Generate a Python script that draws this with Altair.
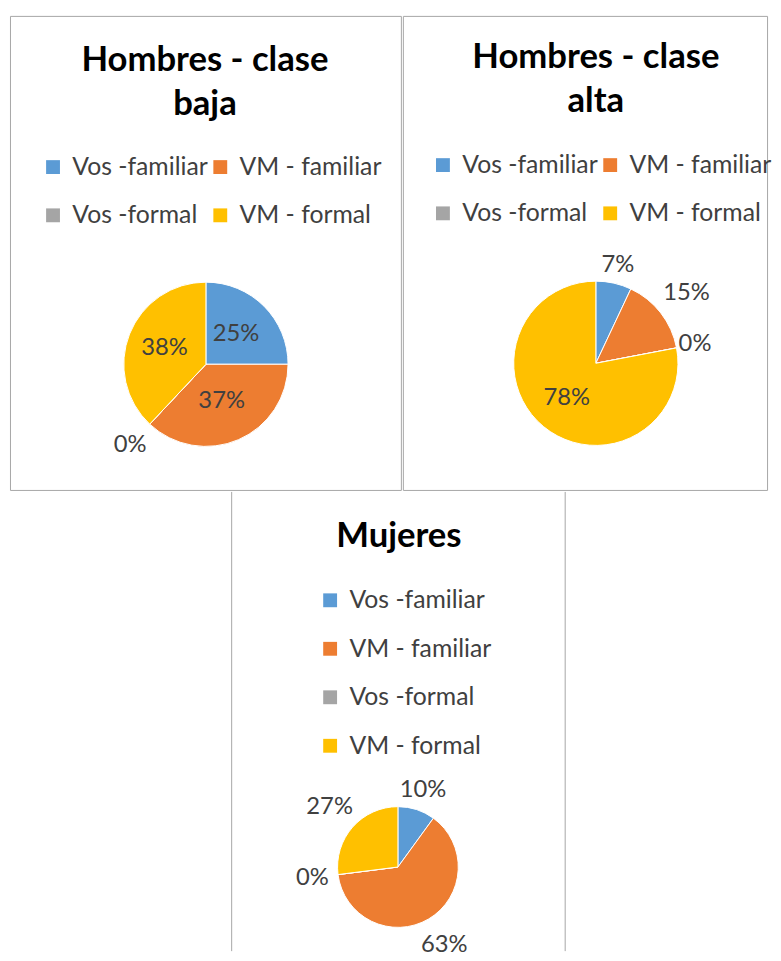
import altair as alt
import pandas as pd

# ---- data ----
categorias = ["Vos -familiar", "VM - familiar", "Vos -formal", "VM - formal"]
hombres_baja = [25, 37, 0, 38]
hombres_alta = [7, 15, 0, 78]
mujeres = [10, 63, 0, 27]
titulos = ["Hombres - clase\nbaja", "Hombres - clase\nalta", "Mujeres"]

# ---- style / layout ----
colores = ["#5B9BD5", "#ED7D31", "#A5A5A5", "#FFC000"]
borde = "#A6A6A6"
label_r_baja = [43, 40, 112, 45]
label_r_alta = [102, 116, 102, 46]
label_r_muj = [82, 92, 87, 92]


def panel(values, label_r, title, w, h, cx, cy, r, tx, ty, lx, ly, cols, xoff=0, frame=False):
    df = pd.DataFrame({
        "cat": categorias,
        "v": values,
        "i": list(range(len(categorias))),
        "lab": [f"{v}%" for v in values],
        "lr": label_r,
    })
    base = alt.Chart(df)
    order = alt.Order("i:Q")
    color = alt.Color(
        "cat:N",
        scale=alt.Scale(domain=categorias, range=colores),
        sort=categorias,
        legend=alt.Legend(
            title=None, orient="none", legendX=lx + xoff, legendY=ly,
            columns=cols, direction="horizontal" if cols > 1 else "vertical",
            symbolType="square", symbolSize=196, symbolStrokeWidth=0,
            labelFont="Lato", labelFontSize=25, labelColor="#404040",
            labelOffset=7, rowPadding=23, columnPadding=0, padding=0,
            labelLimit=400,
        ),
    )
    arcs = base.mark_arc(radius=r, stroke="white", strokeWidth=1).encode(
        theta=alt.Theta("v:Q", stack=True), color=color, order=order,
        x=alt.value(cx + xoff), y=alt.value(cy),
    )
    labels = base.transform_window(
        cum="sum(v)", sort=[alt.SortField("i")], frame=[None, 0]
    ).transform_calculate(
        mid="datum.cum - datum.v / 2"
    ).mark_text(
        font="Lato", fontSize=24, color="#404040", align="center", baseline="middle"
    ).encode(
        theta=alt.Theta("mid:Q", stack=None),
        radius=alt.Radius("lr:Q", scale=None),
        text="lab:N",
        x=alt.value(cx + xoff), y=alt.value(cy),
    )
    tdf = pd.DataFrame({"t": [title]})
    ttl = alt.Chart(tdf).mark_text(
        font="Lato", fontSize=35, fontWeight="bold", color="black",
        align="center", baseline="alphabetic", lineBreak="\n", lineHeight=44,
    ).encode(text="t:N", x=alt.value(tx + xoff), y=alt.value(ty))
    layers = [arcs, labels, ttl]
    if frame:
        rdf = pd.DataFrame({"k": [0]})
        for xx in (xoff, xoff + w):
            layers.append(
                alt.Chart(rdf).mark_rule(color=borde, strokeWidth=1).encode(
                    x=alt.value(xx), y=alt.value(0), y2=alt.value(h)
                )
            )
    ch = alt.layer(*layers).properties(width=w + xoff, height=h)
    if frame:
        ch = ch.properties(view=alt.ViewBackground(stroke=None))
    return ch


p1 = panel(hombres_baja, label_r_baja, titulos[0], 395, 479, 198, 352, 83,
           197, 56, 31, 140, 2)
p2 = panel(hombres_alta, label_r_alta, titulos[1], 368, 479, 195, 351, 83,
           195, 53, 28, 138, 2)
p3 = panel(mujeres, label_r_muj, titulos[2], 337, 464, 168, 379, 61,
           169, 56, 87, 97, 1, xoff=224, frame=True)

top = alt.hconcat(p1, p2, spacing=0).resolve_scale(
    color="independent", theta="independent"
).resolve_legend(color="independent")

chart = alt.vconcat(top, p3, spacing=0).resolve_scale(
    color="independent", theta="independent"
).resolve_legend(color="independent").properties(
    padding={"left": 1, "top": 2, "right": 0, "bottom": 0},
    background="white",
).configure_view(stroke=borde, strokeWidth=1)

chart.save("out.html", embed_options={"renderer": "svg", "actions": False})
